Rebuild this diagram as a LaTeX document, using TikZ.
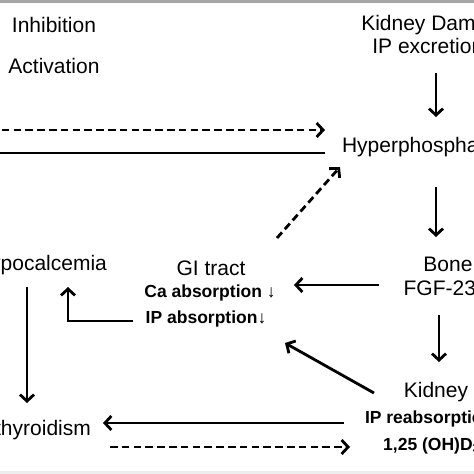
\documentclass[tikz,border=0pt]{standalone}
\usepackage{fontspec}
\setmainfont{Liberation Sans}
\usetikzlibrary{arrows.meta}
\definecolor{topgray}{HTML}{A6A6A6}
\definecolor{botgray}{HTML}{EEEEEE}
\begin{document}
\begin{tikzpicture}[x=1pt,y=-1pt,
  lbl/.style={inner sep=0pt, anchor=base, font=\fontsize{21}{24}\selectfont},
  blbl/.style={inner sep=0pt, anchor=base, font=\fontsize{17.5}{20}\selectfont\bfseries},
  arr/.style={line width=2.8pt, -{Straight Barb[length=6.5pt,width=14pt]}},
  plain/.style={line width=2.8pt},
  dsh/.style={dash pattern=on 7.5pt off 4.3pt}]
\useasboundingbox (0,0) rectangle (474,474);
\clip (0,0) rectangle (474,474);
\fill[topgray] (0,0) rectangle (474,2.5);
\fill[botgray] (0,471) rectangle (474,474);

% labels
\node[lbl] (inh) at (54,32) {Inhibition};
\node[lbl] (act) at (54,73) {Activation};
\node[lbl] (kd1) at (436,30) {Kidney Damage};
\node[lbl] (kd2) at (436,53) {IP excretion ↓};
\node[lbl] (hyp) at (436,152) {Hyperphosphatemia};
\node[lbl] (bone) at (448,271) {Bone};
\node[lbl] (fgf) at (448,295) {FGF-23 ↑};
\node[lbl] (gi) at (211,275) {GI tract};
\node[blbl] (ca) at (210,297) {Ca absorption ↓};
\node[blbl] (ipa) at (206,323) {IP absorption↓};
\node[lbl] (hypoc) at (41,270) {Hypocalcemia};
\node[lbl] (hpt) at (-6,435) {Hyperparathyroidism};
\node[lbl] (kid) at (436,397) {Kidney};
\node[blbl] (reab) at (436,423) {IP reabsorption ↓};
\node[blbl] (vitd) at (436,450) {1,25 (OH)D\textsubscript{3}↓};

% connector end points
\coordinate (kdS) at (436,73);   \coordinate (hypN) at (436,117);
\coordinate (legA) at (-10,130); \coordinate (hypWa) at (325,130);
\coordinate (legI) at (-10,153); \coordinate (hypWi) at (325,153);
\coordinate (giNE) at (277,238); \coordinate (hypSW) at (340,167);
\coordinate (hypS) at (436,187); \coordinate (boneN) at (436,237);
\coordinate (boneW) at (379,285); \coordinate (giE) at (294,285);
\coordinate (boneS) at (439,315); \coordinate (kidN) at (439,362);
\coordinate (kidNW) at (374,393); \coordinate (giSE) at (285,343);
\coordinate (ipaW) at (133,321); \coordinate (corner) at (68,321); \coordinate (hypocS) at (68,287);
\coordinate (hypocD) at (27,287); \coordinate (hptN) at (27,403);
\coordinate (kidW) at (344,423); \coordinate (hptE) at (103,423);
\coordinate (hptSE) at (110,447); \coordinate (kidSW) at (350,447);

% connectors
\draw[arr] (kdS) -- (hypN);
\draw[arr,dsh] (legA) -- (hypWa);
\draw[plain] (legI) -- (hypWi);
\draw[arr,dsh] (giNE) -- (hypSW);
\draw[arr] (hypS) -- (boneN);
\draw[arr] (boneW) -- (giE);
\draw[arr] (boneS) -- (kidN);
\draw[arr] (kidNW) -- (giSE);
\draw[arr] (ipaW) -- (corner) -- (hypocS);
\draw[arr] (hypocD) -- (hptN);
\draw[arr] (kidW) -- (hptE);
\draw[arr,dsh] (hptSE) -- (kidSW);
\end{tikzpicture}
\end{document}
